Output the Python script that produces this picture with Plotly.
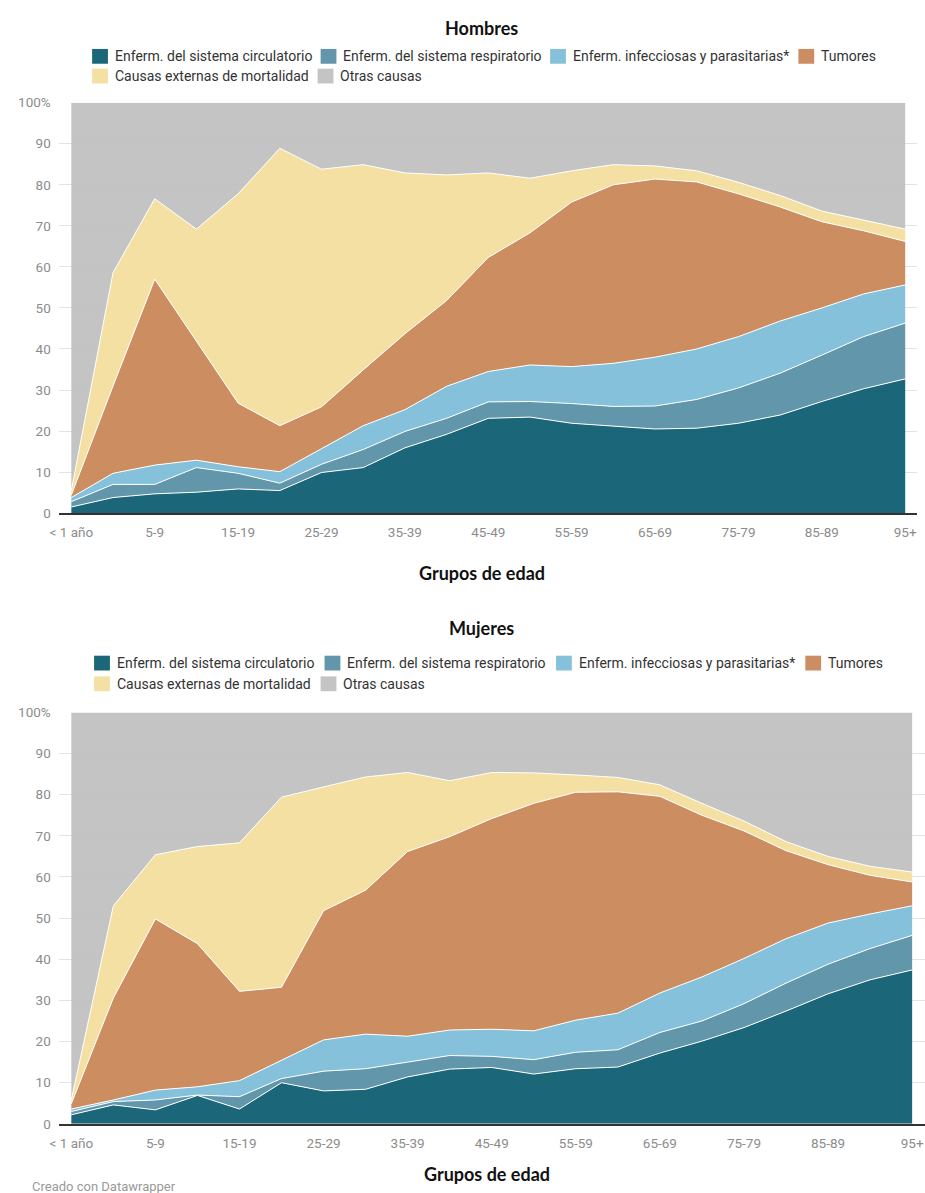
import plotly.graph_objects as go

age_groups = ["< 1 año", "1-4", "5-9", "10-14", "15-19", "20-24", "25-29", "30-34",
              "35-39", "40-44", "45-49", "50-54", "55-59", "60-64", "65-69", "70-74",
              "75-79", "80-84", "85-89", "90-94", "95+"]
tick_groups = age_groups[::2]
y_tick_vals = [0, 10, 20, 30, 40, 50, 60, 70, 80, 90, 100]
y_tick_text = ["0", "10", "20", "30", "40", "50", "60", "70", "80", "90", "100%"]

causes = ["Enferm. del sistema circulatorio", "Enferm. del sistema respiratorio",
          "Enferm. infecciosas y parasitarias*", "Tumores",
          "Causas externas de mortalidad", "Otras causas"]
colors = ["#1c667a", "#6396aa", "#86c1db", "#cc8d62", "#f5e0a3", "#c3c4c3"]

# Hombres (% of deaths by cause)
men_circ = [1.5, 3.8, 4.7, 5.1, 5.9, 5.5, 9.9, 11.1, 15.9, 19.2, 23.1, 23.4, 21.9, 21.2, 20.5, 20.7, 21.9, 23.9, 27.2, 30.3, 32.7]
men_resp = [1.3, 3.2, 2.3, 6.0, 3.8, 1.8, 2.0, 4.4, 4.0, 3.9, 4.0, 3.8, 4.8, 4.8, 5.6, 7.0, 8.6, 10.2, 11.3, 12.7, 13.6]
men_inf = [1.0, 2.7, 4.7, 1.8, 1.6, 2.8, 3.8, 5.8, 5.3, 7.8, 7.4, 8.9, 9.0, 10.5, 11.9, 12.3, 12.5, 12.7, 11.5, 10.4, 9.3]
men_tum = [0.6, 21.3, 45.3, 29.1, 15.5, 11.2, 10.2, 13.6, 18.5, 20.9, 27.8, 32.2, 40.1, 43.5, 43.4, 40.7, 34.8, 27.8, 21.0, 15.4, 10.6]
men_ext = [1.1, 27.6, 19.6, 27.2, 51.0, 67.6, 57.9, 50.0, 39.2, 30.6, 20.6, 13.3, 7.6, 4.9, 3.2, 2.7, 2.8, 2.8, 2.6, 2.6, 3.0]
men_otras = [94.5, 41.4, 23.4, 30.8, 22.2, 11.1, 16.2, 15.1, 17.1, 17.6, 17.1, 18.4, 16.6, 15.1, 15.4, 16.6, 19.4, 22.6, 26.4, 28.6, 30.8]

# Mujeres
wom_circ = [2.2, 4.6, 3.4, 6.9, 3.6, 10.0, 8.0, 8.4, 11.4, 13.3, 13.7, 12.1, 13.4, 13.8, 17.2, 20.1, 23.4, 27.4, 31.6, 35.0, 37.4]
wom_resp = [0.8, 0.8, 2.4, 0.1, 3.0, 1.0, 4.8, 5.0, 3.6, 3.3, 2.7, 3.5, 4.0, 4.2, 5.0, 4.9, 5.8, 6.8, 7.2, 7.6, 8.4]
wom_inf = [0.6, 0.4, 2.4, 2.0, 3.9, 4.4, 7.6, 8.4, 6.3, 6.2, 6.6, 7.0, 7.8, 8.9, 9.6, 10.7, 11.0, 10.8, 10.0, 8.4, 7.2]
wom_tum = [1.3, 24.8, 41.6, 34.8, 21.7, 17.8, 31.4, 35.0, 44.9, 47.0, 51.2, 55.3, 55.4, 53.8, 47.8, 39.3, 31.0, 21.4, 14.2, 9.4, 5.8]
wom_ext = [0.9, 22.4, 15.6, 23.6, 36.1, 46.2, 30.1, 27.5, 19.2, 13.6, 11.2, 7.4, 4.2, 3.5, 2.8, 2.9, 2.4, 2.2, 2.0, 2.2, 2.4]
wom_otras = [94.2, 47.0, 34.6, 32.6, 31.7, 20.6, 18.1, 15.7, 14.6, 16.6, 14.6, 14.7, 15.2, 15.8, 17.6, 22.1, 26.4, 31.4, 35.0, 37.4, 38.8]

men_series = [men_circ, men_resp, men_inf, men_tum, men_ext, men_otras]
wom_series = [wom_circ, wom_resp, wom_inf, wom_tum, wom_ext, wom_otras]

W, H = 925, 1193
ALPHA = 0.92


def fill_rgba(hexc):
    r, g, b = int(hexc[1:3], 16), int(hexc[3:5], 16), int(hexc[5:7], 16)
    f = lambda c: max(0, min(255, round((c - (1 - ALPHA) * 255) / ALPHA)))
    return f"rgba({f(r)},{f(g)},{f(b)},{ALPHA})"


def px_x(p):
    return p / W


def px_y(p):
    return 1 - p / H


fig = go.Figure()
for series, xa, ya, grp in [(men_series, "x", "y", "m"), (wom_series, "x2", "y2", "w")]:
    for k, (name, vals, col) in enumerate(zip(causes, series, colors)):
        fig.add_trace(go.Scatter(
            x=age_groups, y=vals, name=name, xaxis=xa, yaxis=ya,
            stackgroup=grp, mode="lines",
            line=dict(color="white", width=1 if k < 5 else 0),
            fillcolor=fill_rgba(col), showlegend=False,
            hovertemplate="%{x}: %{y:.1f}%<extra>" + name + "</extra>",
        ))

axis_font = dict(family="Roboto, sans-serif", size=13.5, color="#8c8c8c")
common_x = dict(type="category", categoryorder="array", categoryarray=age_groups,
                tickmode="array", tickvals=tick_groups, ticktext=tick_groups,
                showgrid=False, zeroline=False, showline=True, linecolor="#333333",
                linewidth=1.5, ticks="outside", ticklen=6, tickcolor="rgba(0,0,0,0)",
                tickfont=axis_font, fixedrange=True)
common_y = dict(range=[0, 100], tickmode="array", tickvals=y_tick_vals, ticktext=y_tick_text,
                showgrid=True, gridcolor="#e3e3e3", gridwidth=1, zeroline=False,
                ticks="outside", ticklen=5, tickcolor="rgba(0,0,0,0)",
                tickfont=axis_font, fixedrange=True)

fig.update_layout(
    width=W, height=H, margin=dict(l=0, r=0, t=0, b=0),
    paper_bgcolor="white", plot_bgcolor="white",
    xaxis=dict(common_x, domain=[px_x(50), px_x(917)], range=[-0.285, 20.285], anchor="y"),
    yaxis=dict(common_y, domain=[px_y(512), px_y(96)], anchor="x"),
    xaxis2=dict(common_x, domain=[px_x(50), px_x(925)], range=[-0.282, 20.306], anchor="y2"),
    yaxis2=dict(common_y, domain=[px_y(1131), px_y(714)], anchor="x2"),
)

title_font = dict(family="Lato, sans-serif", size=18, color="#111111")
legend_font = dict(family="Roboto, sans-serif", size=14, color="#333333")


def add_text(txt, x, y, font, xanchor="center"):
    fig.add_annotation(text=txt, x=px_x(x), y=px_y(y), xref="paper", yref="paper",
                       xanchor=xanchor, yanchor="middle", showarrow=False, font=font)


add_text("<b>Hombres</b>", 477, 20, title_font)
add_text("<b>Grupos de edad</b>", 477, 573, title_font)
add_text("<b>Mujeres</b>", 477, 628, title_font)
add_text("<b>Grupos de edad</b>", 482, 1182, title_font)

# Legend rows: (swatch left x, row center y) per cause
legend_pos_top = [(83, 49), (314, 49), (546, 49), (797, 49), (83, 69), (311, 69)]
legend_pos_bot = [(85, 664), (318, 664), (552, 664), (804, 664), (85, 685), (314, 685)]
for positions in (legend_pos_top, legend_pos_bot):
    for name, col, (sx, sy) in zip(causes, colors, positions):
        fig.add_shape(type="rect", xref="paper", yref="paper",
                      x0=px_x(sx), x1=px_x(sx + 16), y0=px_y(sy + 7.5), y1=px_y(sy - 7.5),
                      fillcolor=col, line=dict(width=0))
        add_text(name, sx + 21, sy, legend_font, xanchor="left")

fig.add_annotation(text="Creado con Datawrapper", x=px_x(20), y=px_y(1185), xref="paper", yref="paper",
                   xanchor="left", yanchor="top", showarrow=False,
                   font=dict(family="Roboto, sans-serif", size=13, color="#9a9a9a"))

fig.write_html("out.html", config={"displayModeBar": False},
               post_script="document.body.style.margin='0';document.body.style.overflow='hidden';")
